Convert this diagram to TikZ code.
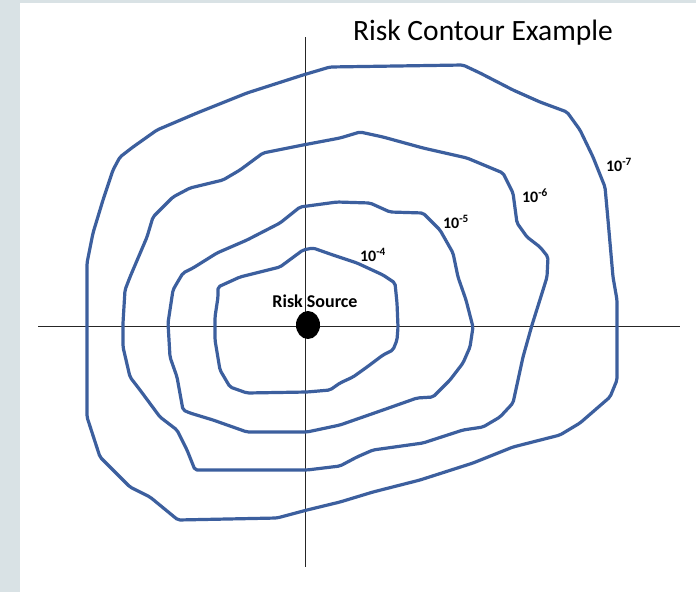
\documentclass[tikz,border=0pt]{standalone}
\usepackage{fontspec}
\setmainfont{Carlito}
\definecolor{contourblue}{RGB}{60,95,158}
\definecolor{stripgrey}{RGB}{217,226,229}
\begin{document}
\begin{tikzpicture}[x=1pt,y=-1pt,
  contour/.style={draw=contourblue,line width=3.2pt,line join=round,rounded corners=2pt},
  axis/.style={draw=black!85,line width=0.8pt},
  lvl/.style={font=\fontsize{16}{18}\selectfont\bfseries,inner sep=0pt}]
\useasboundingbox (0,0) rectangle (696,592);
\fill[white] (0,0) rectangle (696,592);
\fill[stripgrey] (0,0) rectangle (20,592);
\fill[stripgrey] (20,0) rectangle (696,3);
% axes
\coordinate (xl) at (38,326); \coordinate (xr) at (680,326);
\coordinate (yt) at (305,37); \coordinate (yb) at (305,567);
\draw[axis] (xl) -- (xr);
\draw[axis] (yt) -- (yb);
% outer contour 10^-7
\draw[contour] (87,263) -- (93,233) -- (103,200) -- (113,170) -- (120,157) -- (133,147) -- (157,130) -- (197,113) -- (247,93) -- (303,75) -- (330,67) -- (463,65) -- (480,73) -- (513,90) -- (540,102) -- (567,112) -- (580,130) -- (593,157) -- (605,187) -- (608,220) -- (613,277) -- (617,300) -- (617,380) -- (610,397) -- (580,423) -- (560,435) -- (513,447) -- (473,463) -- (420,480) -- (373,492) -- (340,502) -- (307,510) -- (277,518) -- (178,520) -- (150,497) -- (130,487) -- (100,457) -- (87,417) -- cycle;
% 10^-6
\draw[contour] (125,290) -- (130,277) -- (147,237) -- (153,217) -- (173,197) -- (190,188) -- (223,180) -- (240,170) -- (263,153) -- (303,145) -- (340,138) -- (360,132) -- (383,137) -- (423,148) -- (467,158) -- (503,173) -- (513,193) -- (517,223) -- (527,237) -- (540,247) -- (548,257) -- (547,277) -- (543,290) -- (532,325) -- (523,357) -- (513,403) -- (500,417) -- (483,427) -- (463,430) -- (423,443) -- (373,450) -- (357,457) -- (340,466) -- (307,470) -- (195,470) -- (187,450) -- (177,430) -- (160,417) -- (140,390) -- (130,377) -- (123,347) -- (123,323) -- cycle;
% 10^-5
\draw[contour] (173,290) -- (177,283) -- (183,273) -- (193,268) -- (217,253) -- (247,240) -- (280,223) -- (300,207) -- (337,202) -- (370,203) -- (390,212) -- (423,213) -- (440,230) -- (453,253) -- (458,277) -- (466,300) -- (473,327) -- (470,347) -- (463,363) -- (450,380) -- (433,397) -- (417,398) -- (383,410) -- (340,425) -- (307,432) -- (247,432) -- (213,420) -- (190,413) -- (183,410) -- (177,377) -- (170,357) -- (168,323) -- cycle;
% 10^-4
\draw[contour] (218,297) -- (218,287) -- (240,277) -- (280,267) -- (303,250) -- (313,248) -- (333,255) -- (357,263) -- (383,275) -- (395,283) -- (397,303) -- (398,327) -- (397,340) -- (393,350) -- (383,355) -- (367,367) -- (353,377) -- (340,383) -- (330,390) -- (307,392) -- (247,393) -- (230,387) -- (220,370) -- (215,340) -- (215,317) -- cycle;
% source
\fill[black] (308,325) ellipse [x radius=12, y radius=14];
\node[font=\fontsize{18}{21}\selectfont\bfseries,inner sep=0pt] (src) at (315,301) {Risk Source};
\node[lvl] (l4) at (373,255) {10\textsuperscript{-4}};
\node[lvl] (l5) at (456,222) {10\textsuperscript{-5}};
\node[lvl] (l6) at (535,196) {10\textsuperscript{-6}};
\node[lvl] (l7) at (619,165) {10\textsuperscript{-7}};
\node[font=\fontsize{29.5}{34}\selectfont,inner sep=0pt] (title) at (483,33) {Risk Contour Example};
\end{tikzpicture}
\end{document}
